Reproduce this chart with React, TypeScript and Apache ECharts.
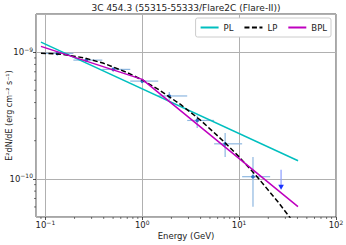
import React, { useEffect, useRef } from 'react';
import * as echarts from 'echarts';

// ---- data ----
const pointEnergy = [0.133, 0.265, 0.502, 1.0, 1.9, 3.69, 7.17, 13.9];
const binLow = [0.093, 0.1945, 0.387, 0.752, 1.462, 2.91, 5.52, 10.74];
const binHigh = [0.1945, 0.387, 0.752, 1.462, 2.91, 5.52, 10.74, 20.9];
const fluxValue = [9.77e-10, 8.65e-10, 7.31e-10, 5.91e-10, 4.51e-10, 2.89e-10, 1.89e-10, 1.04e-10];
const fluxLow = [9.45e-10, 8.35e-10, 7.05e-10, 5.65e-10, 4.19e-10, 2.52e-10, 1.49e-10, 6.03e-11];
const fluxHigh = [1.01e-9, 8.97e-10, 7.58e-10, 6.18e-10, 4.84e-10, 3.15e-10, 2.3e-10, 1.49e-10];

const ulEnergy = [27.1];
const ulFlux = [1.18e-10];

const plEnergy = [0.09, 40.6];
const plFlux = [1.2e-9, 1.39e-10];

const lpEnergy = [0.09, 0.15, 0.25, 0.4, 0.7, 1, 1.5, 2.5, 4, 7, 10, 15, 25, 40];
const lpFlux = [9.82e-10, 9.62e-10, 9.02e-10, 8.16e-10, 6.9e-10, 6.03e-10, 5.03e-10, 3.85e-10, 2.9e-10, 1.96e-10, 1.49e-10, 1.06e-10, 6.63e-11, 4.14e-11];

const bplEnergy = [0.09, 1.0, 40.5];
const bplFlux = [1.11e-9, 6.1e-10, 6.03e-11];

const xMinorTicks = [0.09, 0.2, 0.3, 0.4, 0.5, 0.6, 0.7, 0.8, 0.9, 2, 3, 4, 5, 6, 7, 8, 9, 20, 30, 40, 50, 60, 70, 80, 90];
const yMinorTicks = [6e-11, 7e-11, 8e-11, 9e-11, 2e-10, 3e-10, 4e-10, 5e-10, 6e-10, 7e-10, 8e-10, 9e-10];

const X_MIN = 0.08;
const X_MAX = 100;
const Y_MIN = 5e-11;
const Y_MAX = 2e-9;

const titleText = '3C 454.3 (55315-55333/Flare2C (Flare-II))';
const seriesNames = ['PL', 'LP', 'BPL'];

const FONT = 'DejaVu Sans';

function powLabel(v: number): string {
  const e = Math.round(Math.log10(v));
  if (Math.abs(v / Math.pow(10, e) - 1) > 1e-6) return '';
  return `{b|10}{s|${e < 0 ? '\u2212' : ''}${Math.abs(e)}}`;
}

const richLabels = {
  b: { fontSize: 8.5, fontFamily: FONT, color: '#222' },
  s: { fontSize: 6, fontFamily: FONT, color: '#222', padding: [0, 0, 6, 0] },
};

export default function App() {
  const ref = useRef<HTMLDivElement>(null);

  useEffect(() => {
    if (!ref.current) return;
    const chart = echarts.init(ref.current, undefined, { renderer: 'svg' });

    const errData = pointEnergy.map((e, i) => [e, fluxValue[i], binLow[i], binHigh[i], fluxLow[i], fluxHigh[i]]);
    const ulData = ulEnergy.map((e, i) => [e, ulFlux[i]]);

    const option: any = {
      animation: false,
      backgroundColor: '#fff',
      title: {
        text: titleText,
        left: 186,
        textAlign: 'center',
        top: 3,
        padding: 0,
        textStyle: { fontFamily: FONT, fontSize: 9, fontWeight: 'normal', color: '#222' },
      },
      legend: {
        data: seriesNames,
        right: 15,
        top: 18,
        itemWidth: 18,
        itemHeight: 8,
        itemGap: 10,
        padding: [5, 4],
        backgroundColor: '#fff',
        borderColor: '#ccc',
        borderWidth: 1,
        borderRadius: 2,
        itemStyle: { opacity: 0 },
        textStyle: { fontFamily: FONT, fontSize: 8.5, color: '#222' },
      },
      grid: {
        left: 36,
        right: 10,
        top: 14,
        bottom: 28,
        show: true,
        borderColor: '#222',
        borderWidth: 0.8,
        backgroundColor: 'transparent',
        containLabel: false,
        outerBoundsMode: 'none',
      },
      xAxis: {
        type: 'log',
        min: X_MIN,
        max: X_MAX,
        name: 'Energy (GeV)',
        nameLocation: 'middle',
        nameGap: 14,
        nameMoveOverlap: false,
        nameTextStyle: { fontFamily: FONT, fontSize: 8.5, color: '#222' },
        axisLine: { show: false },
        axisTick: { show: true, length: 3, lineStyle: { color: '#222', width: 0.8 } },
        axisLabel: { formatter: powLabel, rich: richLabels, margin: 2, showMinLabel: false },
        splitLine: { show: true, lineStyle: { color: '#b0b0b0', width: 1 } },
      },
      yAxis: {
        type: 'log',
        min: Y_MIN,
        max: Y_MAX,
        name: 'E\u00B2dN/dE (erg cm\u207B\u00B2 s\u207B\u00B9)',
        nameLocation: 'middle',
        nameGap: 23,
        nameRotate: 90,
        nameMoveOverlap: false,
        nameTextStyle: { fontFamily: FONT, fontSize: 8, color: '#222' },
        axisLine: { show: false },
        axisTick: { show: true, length: 3, lineStyle: { color: '#222', width: 0.8 } },
        axisLabel: { formatter: powLabel, rich: richLabels, margin: 3, showMinLabel: false, showMaxLabel: false },
        splitLine: { show: true, lineStyle: { color: '#b0b0b0', width: 1 } },
      },
      series: [
        {
          type: 'custom',
          name: 'minorX',
          data: xMinorTicks.map((v) => [v, Y_MIN]),
          encode: { x: 0, y: 1 },
          silent: true,
          renderItem: (params: any, api: any) => {
            const p = api.coord([api.value(0), Y_MIN]);
            return {
              type: 'line',
              shape: { x1: p[0], y1: p[1], x2: p[0], y2: p[1] + 2 },
              style: { stroke: '#222', lineWidth: 0.6 },
            };
          },
        },
        {
          type: 'custom',
          name: 'minorY',
          data: yMinorTicks.map((v) => [X_MIN, v]),
          encode: { x: 0, y: 1 },
          silent: true,
          renderItem: (params: any, api: any) => {
            const p = api.coord([X_MIN, api.value(1)]);
            return {
              type: 'line',
              shape: { x1: p[0], y1: p[1], x2: p[0] - 2, y2: p[1] },
              style: { stroke: '#222', lineWidth: 0.6 },
            };
          },
        },
        {
          type: 'custom',
          name: 'points',
          data: errData,
          encode: { x: 0, y: 1 },
          renderItem: (params: any, api: any) => {
            const x = api.value(0);
            const y = api.value(1);
            const c = api.coord([x, y]);
            const l = api.coord([api.value(2), y]);
            const r = api.coord([api.value(3), y]);
            const lo = api.coord([x, api.value(4)]);
            const hi = api.coord([x, api.value(5)]);
            const st = { stroke: '#8db7e0', lineWidth: 1.2 };
            return {
              type: 'group',
              children: [
                { type: 'line', shape: { x1: l[0], y1: l[1], x2: r[0], y2: r[1] }, style: st },
                { type: 'line', shape: { x1: lo[0], y1: lo[1], x2: hi[0], y2: hi[1] }, style: st },
                { type: 'circle', shape: { cx: c[0], cy: c[1], r: 1.8 }, style: { fill: '#2f6fc4' } },
              ],
            };
          },
        },
        {
          type: 'custom',
          name: 'upper limit',
          data: ulData,
          encode: { x: 0, y: 1 },
          renderItem: (params: any, api: any) => {
            const c = api.coord([api.value(0), api.value(1)]);
            const len = 20;
            return {
              type: 'group',
              children: [
                { type: 'line', shape: { x1: c[0], y1: c[1], x2: c[0], y2: c[1] + len - 4 }, style: { stroke: '#8a9cff', lineWidth: 1.2 } },
                {
                  type: 'polygon',
                  shape: { points: [[c[0] - 2.8, c[1] + len - 5], [c[0] + 2.8, c[1] + len - 5], [c[0], c[1] + len]] },
                  style: { fill: '#1a32ff' },
                },
              ],
            };
          },
        },
        {
          type: 'line',
          name: 'PL',
          data: plEnergy.map((e, i) => [e, plFlux[i]]),
          symbol: 'none',
          lineStyle: { color: '#00bfbf', width: 1.5 },
          itemStyle: { color: '#00bfbf' },
        },
        {
          type: 'line',
          name: 'LP',
          data: lpEnergy.map((e, i) => [e, lpFlux[i]]),
          symbol: 'none',
          smooth: false,
          lineStyle: { color: '#000', width: 1.5, type: [5, 2.5] },
          itemStyle: { color: '#000' },
        },
        {
          type: 'line',
          name: 'BPL',
          data: bplEnergy.map((e, i) => [e, bplFlux[i]]),
          symbol: 'none',
          lineStyle: { color: '#bf00bf', width: 1.5 },
          itemStyle: { color: '#bf00bf' },
        },
      ],
    };

    chart.setOption(option);
    return () => chart.dispose();
  }, []);

  return <div ref={ref} style={{ position: 'absolute', left: 0, top: 0, width: 346, height: 245 }} />;
}
